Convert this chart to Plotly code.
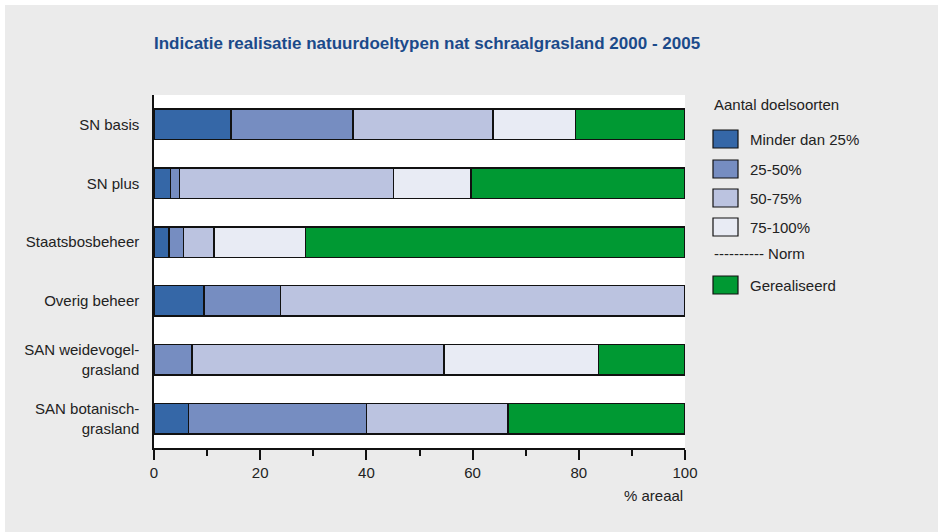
import plotly.graph_objects as go

CATEGORIES = [
    "SN basis",
    "SN plus",
    "Staatsbosbeheer",
    "Overig beheer",
    "SAN weidevogel-<br>grasland",
    "SAN botanisch-<br>grasland",
]

SERIES_NAMES = ["Minder dan 25%", "25-50%", "50-75%", "75-100%", "Gerealiseerd"]
SERIES_VALUES = [
    [14.5, 3.1, 2.8, 9.4, 0.0, 6.5],      # Minder dan 25%
    [23.0, 1.7, 2.8, 14.4, 7.2, 33.5],    # 25-50%
    [26.3, 40.3, 5.7, 76.2, 47.4, 26.7],  # 50-75%
    [15.6, 14.6, 17.2, 0.0, 29.1, 0.0],   # 75-100%
    [20.6, 40.3, 71.5, 0.0, 16.3, 33.3],  # Gerealiseerd
]
COLORS = ["#3567a7", "#768dc1", "#bbc3e0", "#e8ebf4", "#009933"]

W, H = 938, 532
L, R, T, B = 154, 685, 95, 448
FONT = "Liberation Sans, Arial, sans-serif"
TXT = "#222"


def px(x):
    return (x - L) / (R - L)


def py(y):
    return (B - y) / (B - T)


def label(text, x, y, anchor="left", size=15, color=TXT, bold=False):
    if bold:
        text = f"<b>{text}</b>"
    return dict(text=text, xref="paper", yref="paper", x=px(x), y=py(y),
                xanchor=anchor, yanchor="middle", showarrow=False,
                font=dict(family=FONT, size=size, color=color))


fig = go.Figure()
for name, vals, col in zip(SERIES_NAMES, SERIES_VALUES, COLORS):
    fig.add_trace(go.Bar(
        y=CATEGORIES, x=vals, name=name, orientation="h",
        marker=dict(color=col, line=dict(color="#111", width=1.5)),
        width=0.52, showlegend=False,
    ))

shapes = [
    # thin white border around the grey page
    dict(type="rect", xref="paper", yref="paper", x0=px(0), x1=px(W), y0=py(0), y1=py(5),
         fillcolor="white", line=dict(width=0), layer="above"),
    dict(type="rect", xref="paper", yref="paper", x0=px(0), x1=px(5), y0=py(0), y1=py(H),
         fillcolor="white", line=dict(width=0), layer="above"),
]
annotations = [
    label("Indicatie realisatie natuurdoeltypen nat schraalgrasland 2000 - 2005",
          427, 43, anchor="center", size=17, color="#1b4a8a", bold=True),
    label("% areaal", 685, 495, anchor="right"),
    label("Aantal doelsoorten", 712, 105),
    label("---------- Norm", 712, 253),
]

# legend built by hand to match the reference spacing
legend_y = [139, 169, 198, 227, 285]
for name, col, yc in zip(SERIES_NAMES, COLORS, legend_y):
    shapes.append(dict(type="rect", xref="paper", yref="paper",
                       x0=px(713), x1=px(738), y0=py(yc + 9), y1=py(yc - 9),
                       fillcolor=col, line=dict(color="#111", width=1.2)))
    annotations.append(label(name, 748, yc))

fig.update_layout(
    width=W, height=H,
    barmode="stack",
    paper_bgcolor="#ebebeb",
    plot_bgcolor="white",
    margin=dict(l=L, r=W - R, t=T, b=H - B, pad=0),
    shapes=shapes,
    annotations=annotations,
    font=dict(family=FONT, size=15, color=TXT),
    xaxis=dict(
        range=[0, 100], tickvals=[0, 20, 40, 60, 80, 100],
        ticks="outside", ticklen=10, tickwidth=1.5, tickcolor="#111",
        showline=True, linecolor="#111", linewidth=1.5,
        showgrid=False, zeroline=False,
        tickfont=dict(size=15, color=TXT),
        minor=dict(tickvals=[10, 30, 50, 70, 90], ticks="outside", ticklen=6,
                   tickwidth=1.5, tickcolor="#111", showgrid=False),
        fixedrange=True,
    ),
    yaxis=dict(
        categoryorder="array", categoryarray=CATEGORIES, autorange="reversed",
        showline=True, linecolor="#111", linewidth=1.5,
        ticks="", showgrid=False, zeroline=False,
        tickfont=dict(size=15, color=TXT),
        ticklabelstandoff=10,
        fixedrange=True,
    ),
)

# drop the default page margin so the figure sits at the window's corner
fig.write_html("out.html", config={"displayModeBar": False},
               post_script="document.body.style.margin='0px';")
